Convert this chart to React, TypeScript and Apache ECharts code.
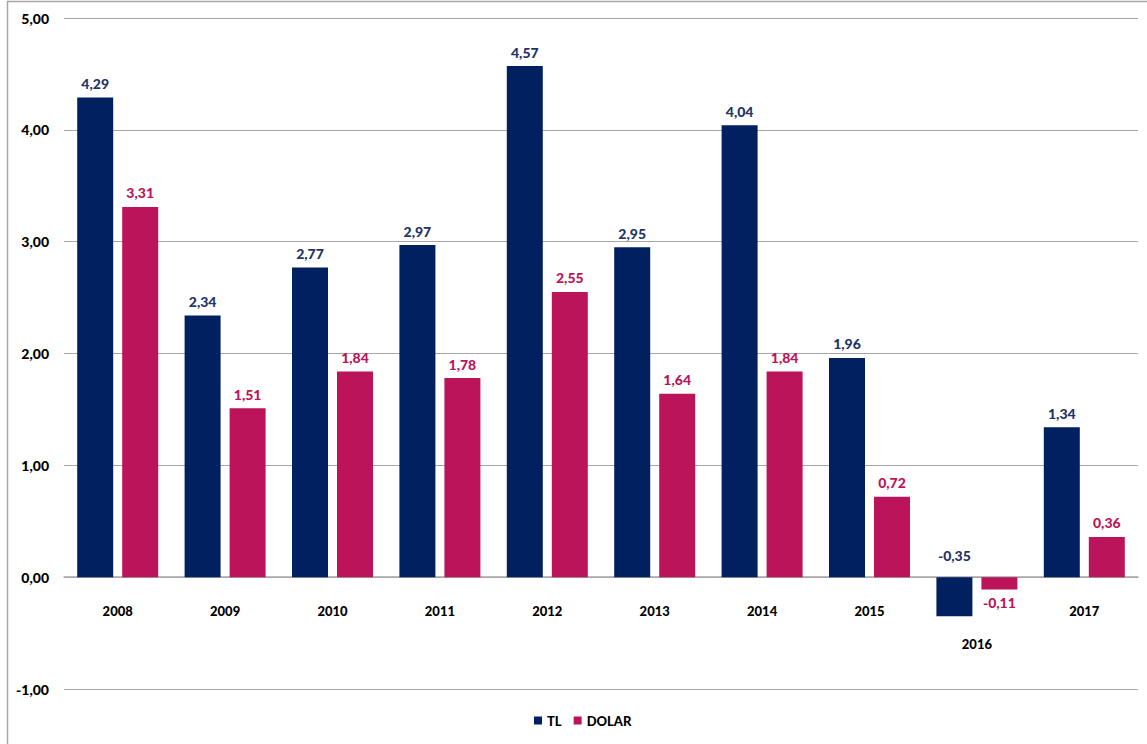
import React, { useEffect, useRef } from "react";
import * as echarts from "echarts";

const categories = ["2008", "2009", "2010", "2011", "2012", "2013", "2014", "2015", "2016", "2017"];
const tlValues = [4.29, 2.34, 2.77, 2.97, 4.57, 2.95, 4.04, 1.96, -0.35, 1.34];
const dolarValues = [3.31, 1.51, 1.84, 1.78, 2.55, 1.64, 1.84, 0.72, -0.11, 0.36];
const seriesNames = ["TL", "DOLAR"];

const NAVY = "#002060";
const NAVY_TEXT = "#1f3468";
const PINK = "#bb145a";
const FONT = "Lato, 'Noto Sans', sans-serif";

const fmt = (v: number) => v.toFixed(2).replace(".", ",");

export default function App() {
  const ref = useRef<HTMLDivElement>(null);
  useEffect(() => {
    if (!ref.current) return;
    const chart = echarts.init(ref.current, null, { renderer: "svg" });
    const labelBase = { show: true, fontFamily: FONT, fontWeight: 900, fontSize: 14, distance: 7 };
    chart.setOption({
      animation: false,
      backgroundColor: "#ffffff",
      textStyle: { fontFamily: FONT },
      graphic: [
        {
          type: "rect",
          shape: { x: 7.5, y: 1.5, width: 1160, height: 780 },
          style: { fill: "none", stroke: "#a6a6a6", lineWidth: 1.5 },
          silent: true,
        },
      ],
      grid: { left: 64, right: 9, top: 18, bottom: 55, containLabel: false, outerBoundsMode: "none" },
      legend: {
        data: seriesNames,
        bottom: 12,
        left: 529,
        icon: "rect",
        itemWidth: 8,
        itemHeight: 8,
        itemGap: 12,
        textStyle: { fontFamily: FONT, fontWeight: 900, fontSize: 13, color: "#000" },
      },
      xAxis: {
        type: "category",
        data: categories,
        offset: -112,
        axisLine: { onZero: false, lineStyle: { color: "#a6a6a6", width: 1.5 } },
        axisTick: { show: false },
        axisLabel: {
          margin: 27,
          color: "#000",
          fontFamily: FONT,
          fontWeight: 900,
          fontSize: 13,
          formatter: (v: string) => (v === "2016" ? "{low|" + v + "}" : v),
          rich: {
            low: { padding: [33, 0, 0, 0], color: "#000", fontFamily: FONT, fontWeight: 900, fontSize: 13 },
          },
        },
      },
      yAxis: {
        type: "value",
        min: -1,
        max: 5,
        interval: 1,
        axisLine: { show: false },
        axisTick: { show: false },
        splitLine: { lineStyle: { color: "#a6a6a6", width: 1 } },
        axisLabel: {
          margin: 15,
          color: "#000",
          fontFamily: FONT,
          fontWeight: 900,
          fontSize: 14,
          formatter: (v: number) => fmt(v),
        },
      },
      series: [
        {
          name: seriesNames[0],
          type: "bar",
          barWidth: 36,
          barGap: "25%",
          itemStyle: { color: NAVY },
          data: tlValues.map((v) => ({
            value: v,
            label: v < 0 ? { position: "top", distance: 15 } : undefined,
          })),
          label: {
            ...labelBase,
            position: "top",
            color: NAVY_TEXT,
            formatter: (p: any) => fmt(p.value),
          },
        },
        {
          name: seriesNames[1],
          type: "bar",
          barWidth: 36,
          barGap: "25%",
          itemStyle: { color: PINK },
          data: dolarValues.map((v) => ({
            value: v,
            label: v < 0 ? { position: "bottom", distance: 6 } : undefined,
          })),
          label: {
            ...labelBase,
            position: "top",
            color: PINK,
            formatter: (p: any) => fmt(p.value),
          },
        },
      ],
    });
    return () => chart.dispose();
  }, []);
  return (
    <div
      ref={ref}
      style={{ position: "absolute", left: 0, top: 0, width: 1147, height: 744, overflow: "hidden" }}
    />
  );
}
